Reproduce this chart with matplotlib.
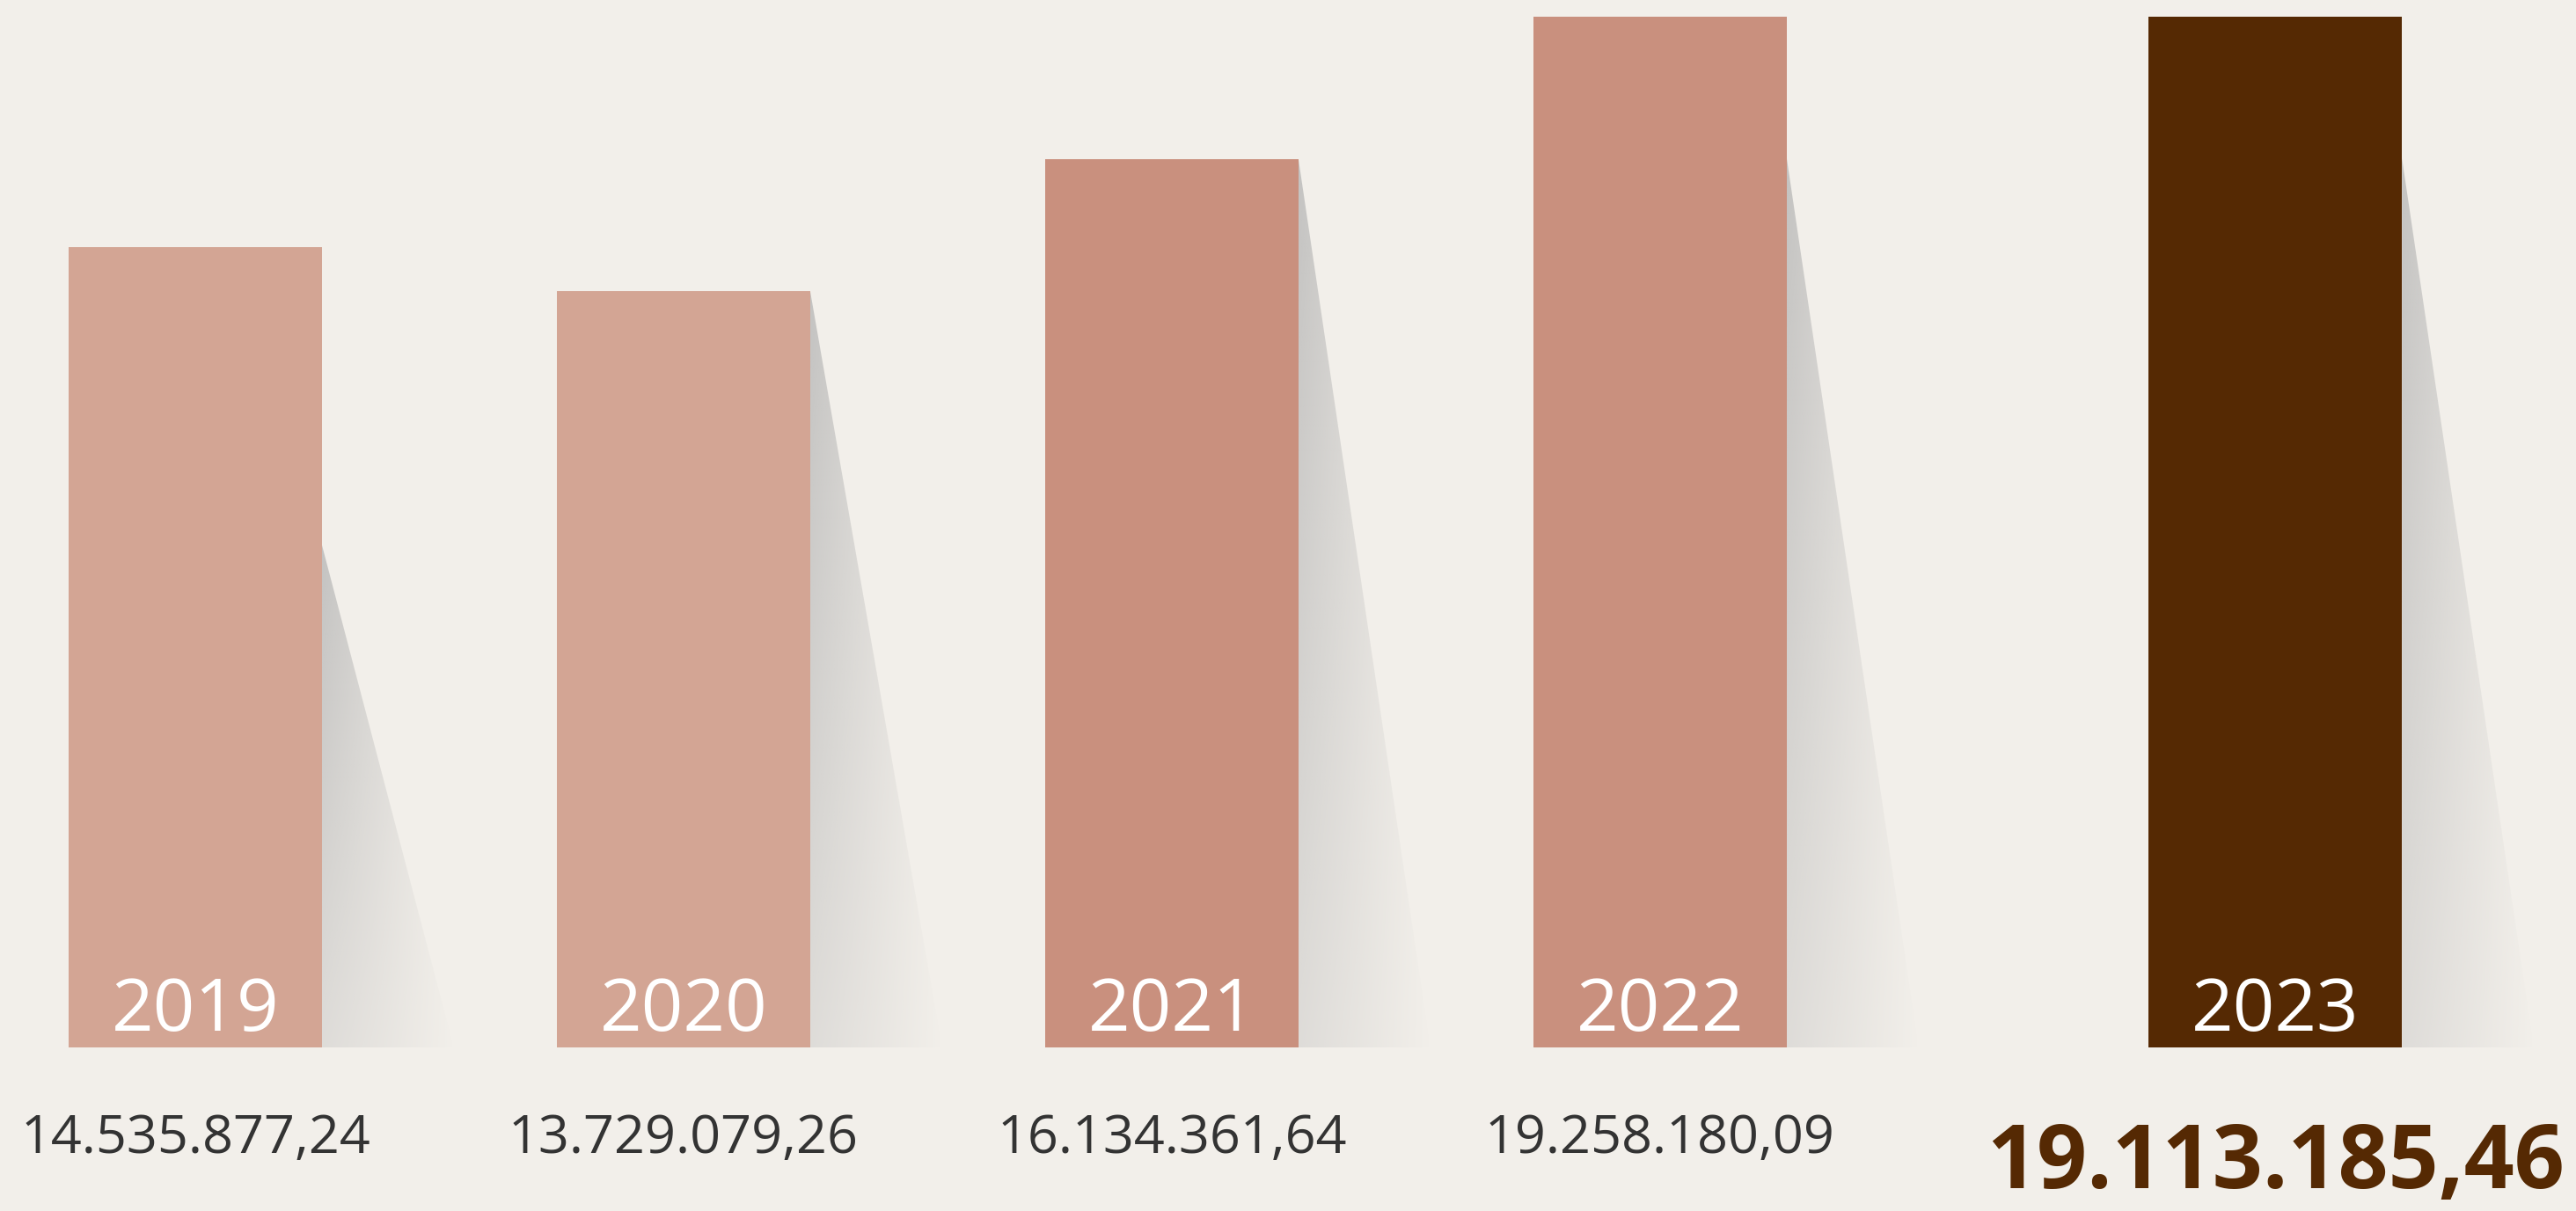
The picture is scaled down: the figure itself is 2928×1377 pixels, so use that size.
import matplotlib
matplotlib.use("Agg")
import matplotlib.pyplot as plt
from matplotlib.patches import Polygon
import numpy as np

# data
years = ["2019", "2020", "2021", "2022", "2023"]
values = [14535877.24, 13729079.26, 16134361.64, 19258180.09, 19113185.46]
value_labels = ["14.535.877,24", "13.729.079,26", "16.134.361,64", "19.258.180,09", "19.113.185,46"]
highlight = [False, False, False, False, True]

# style
bg = "#f2efea"
bar_colors = ["#d3a594", "#d3a594", "#c9907e", "#c9907e", "#552903"]
plt.rcParams['font.family'] = ['Open Sans', 'DejaVu Sans']

fig = plt.figure(figsize=(29.28, 13.77), dpi=100, facecolor=bg)
ax = fig.add_axes([0, 0.1351, 1, 0.8511])
ax.set_facecolor(bg)

n = len(values)
x = np.arange(n) + np.where(highlight, 0.26, 0.0)
width = 0.519
ymax = 18.72e6
ax.axis('off')

# shadow heights (where the cast shadow starts on the bar's right edge)
shadow_tops = [9.12e6, 13.73e6, 16.13e6, 16.15e6, 16.15e6]
shadow_w = 0.27

for xi, top in zip(x, shadow_tops):
    xr = xi + width / 2
    nx, ny = 200, 200
    tx = np.linspace(0, 1, nx)[None, :]
    ty = np.linspace(1, 0, ny)[:, None]  # 1 at top, 0 at bottom
    alpha = (1 - tx) * (0.3 + 0.4 * ty)
    img = np.zeros((ny, nx, 4))
    img[..., :3] = 176 / 255
    img[..., 3] = np.clip(alpha, 0, 1)
    im = ax.imshow(img, extent=[xr, xr + shadow_w, 0, top], aspect='auto',
                   zorder=1, interpolation='bilinear')
    poly = Polygon([[xr, 0], [xr, top], [xr + shadow_w, 0]], closed=True,
                   facecolor='none', edgecolor='none', transform=ax.transData)
    ax.add_patch(poly)
    im.set_clip_path(poly)

bars = ax.bar(x, values, width=width, color=bar_colors, zorder=2)

for xi, yr, lab, hl in zip(x, years, value_labels, highlight):
    ax.text(xi, 0.64e6, yr, ha='center', va='center', color='white',
            fontsize=60, zorder=3)
    if hl:
        ax.text(xi, -2.14e6, lab, ha='center', va='center', color='#552903',
                fontsize=72, fontweight='bold', clip_on=False)
    else:
        ax.text(xi, -1.66e6, lab, ha='center', va='center', color='#333333',
                fontsize=44, clip_on=False)

ax.set_xlim(-0.4, 4.876)
ax.set_ylim(0, ymax)
fig.savefig("out.png", dpi=100, facecolor=bg)
